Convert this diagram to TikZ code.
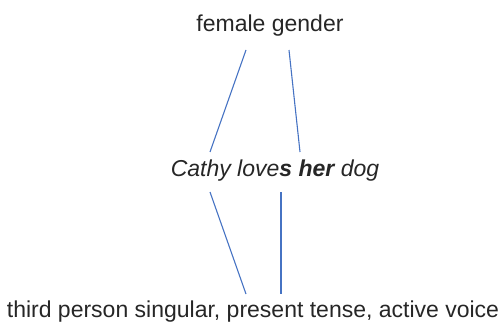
\documentclass[tikz,border=0pt]{standalone}
\usepackage{fontspec}
\setmainfont{Liberation Sans}
\definecolor{linkblue}{RGB}{70,115,195}
\begin{document}
\begin{tikzpicture}[x=1pt,y=1pt,
  lbl/.style={inner sep=0pt,anchor=base,font=\fontsize{23}{27}\selectfont,text=black!85},
  link/.style={draw=linkblue,line width=1.1pt}]
\useasboundingbox (0,0) rectangle (503,322);
\node[lbl] (top) at (270,322-32) {female gender};
\node[lbl] (mid) at (275,322-176) {\itshape Cathy love\textbf{s her} dog};
\node[lbl] (bot) at (253,322-317) {third person singular, present tense, active voice};
\coordinate (t1) at (246,322-50);
\coordinate (t2) at (289,322-50);
\coordinate (m1) at (210,322-152);
\coordinate (m2) at (300,322-152);
\coordinate (m3) at (210,322-192);
\coordinate (m4) at (281,322-192);
\coordinate (b1) at (246,322-294);
\coordinate (b2) at (281,322-294);
\draw[link] (t1) -- (m1);
\draw[link] (t2) -- (m2);
\draw[link] (m3) -- (b1);
\draw[link] (m4) -- (b2);
\end{tikzpicture}
\end{document}
